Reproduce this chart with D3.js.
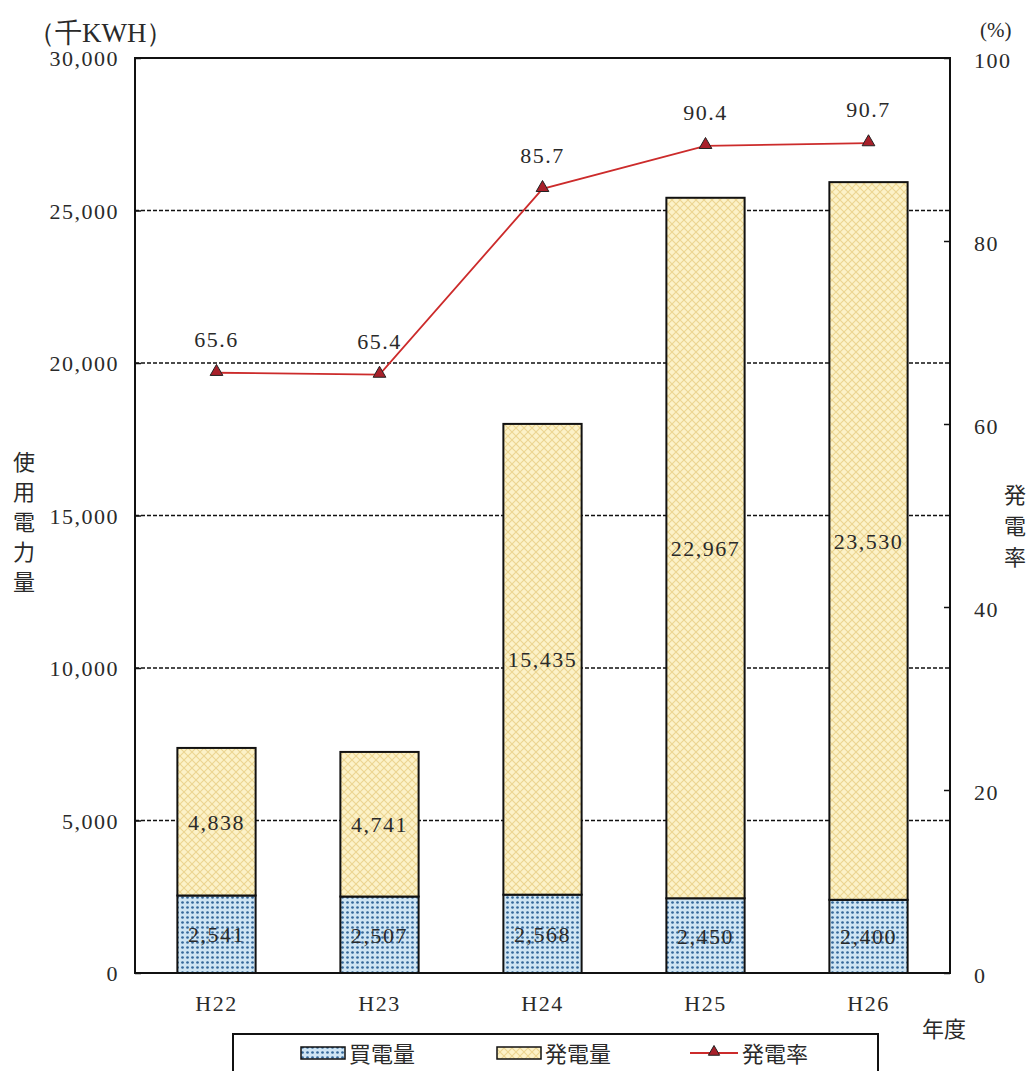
<!DOCTYPE html>
<html><head><meta charset="utf-8">
<script src="https://cdn.jsdelivr.net/npm/d3@7"></script>
<style>body{margin:0;background:#fff}svg{display:block}</style>
</head><body>
<script>
const categories = ["H22","H23","H24","H25","H26"];
const purchased = [2541,2507,2568,2450,2400];
const generated = [4838,4741,15435,22967,23530];
const genRate = [65.6,65.4,85.7,90.4,90.7];
const leftTicks = [0,5000,10000,15000,20000,25000,30000];
const rightTicks = [0,20,40,60,80,100];

const W=1027,H=1071;
const m={l:135,r:950,t:58,b:973};
const serif='"Liberation Serif","DejaVu Serif",serif';
const cjk='"Noto Sans CJK JP",sans-serif';
const ink="#2a2a2a";
const svg=d3.select("body").append("svg").attr("width",W).attr("height",H);
const defs=svg.append("defs");
const pb=defs.append("pattern").attr("id","pBlue").attr("patternUnits","userSpaceOnUse").attr("width",5).attr("height",5);
pb.append("rect").attr("width",5).attr("height",5).attr("fill","#cfe5f4");
pb.append("circle").attr("cx",2.5).attr("cy",2.5).attr("r",1.35).attr("fill","#35689a");
const py=defs.append("pattern").attr("id","pYel").attr("patternUnits","userSpaceOnUse").attr("width",8).attr("height",8);
py.append("rect").attr("width",8).attr("height",8).attr("fill","#fcf2c8");
py.append("path").attr("d","M0,0L8,8M8,0L0,8").attr("stroke","#ecd590").attr("stroke-width",1.1);

const x=d3.scaleBand().domain(categories).range([m.l,m.r]).paddingInner(0.52).paddingOuter(0.26);
const y=d3.scaleLinear().domain([0,30000]).range([m.b,m.t]);
const y2=d3.scaleLinear().domain([0,100]).range([m.b,m.t]);

const numText=sel=>sel.attr("font-family",serif).attr("font-size",22).attr("letter-spacing",1.5).attr("fill",ink);

// gridlines
svg.append("g").selectAll("line").data(leftTicks.filter(d=>d>0&&d<30000)).join("line")
 .attr("x1",m.l).attr("x2",m.r).attr("y1",d=>y(d)).attr("y2",d=>y(d))
 .attr("stroke","#111").attr("stroke-width",1.6).attr("stroke-dasharray","4,2");

// bars
const g=svg.append("g");
categories.forEach((c,i)=>{
  const x0=x(c),bw=x.bandwidth();
  g.append("rect").attr("x",x0).attr("width",bw).attr("y",y(purchased[i])).attr("height",y(0)-y(purchased[i]))
   .attr("fill","url(#pBlue)").attr("stroke","#111").attr("stroke-width",2);
  const top=purchased[i]+generated[i];
  g.append("rect").attr("x",x0).attr("width",bw).attr("y",y(top)).attr("height",y(purchased[i])-y(top))
   .attr("fill","url(#pYel)").attr("stroke","#111").attr("stroke-width",2);
  g.append("text").attr("x",x0+bw/2).attr("y",(y(0)+y(purchased[i]))/2+8).attr("text-anchor","middle")
   .call(numText).text(d3.format(",")(purchased[i]));
  g.append("text").attr("x",x0+bw/2).attr("y",(y(purchased[i])+y(top))/2+8).attr("text-anchor","middle")
   .call(numText).text(d3.format(",")(generated[i]));
});

// line
const cx=c=>x(c)+x.bandwidth()/2;
svg.append("path").datum(genRate).attr("fill","none").attr("stroke","#cc2b2b").attr("stroke-width",1.8)
 .attr("d",d3.line().x((d,i)=>cx(categories[i])).y(d=>y2(d)));
svg.append("g").selectAll("path").data(genRate).join("path")
 .attr("d",d3.symbol(d3.symbolTriangle,70)).attr("transform",(d,i)=>`translate(${cx(categories[i])},${y2(d)-1})`)
 .attr("fill","#a8202a").attr("stroke","#222").attr("stroke-width",1);
svg.append("g").selectAll("text").data(genRate).join("text")
 .attr("x",(d,i)=>cx(categories[i])).attr("y",(d)=>y2(d)-26).attr("text-anchor","middle")
 .call(numText).text(d=>d.toFixed(1));

// frame
svg.append("rect").attr("x",m.l).attr("y",m.t).attr("width",m.r-m.l).attr("height",m.b-m.t)
 .attr("fill","none").attr("stroke","#111").attr("stroke-width",2);

// axes
const ax=svg.append("g").attr("transform",`translate(${m.l},0)`)
 .call(d3.axisRight(y).tickValues(leftTicks).tickSize(6).tickFormat(d3.format(",")));
ax.select(".domain").remove();
ax.selectAll("line").attr("stroke","#111").attr("stroke-width",1.5);
ax.selectAll("text").attr("x",-16).attr("text-anchor","end").call(numText).attr("dy","0.35em");

const ar=svg.append("g").attr("transform",`translate(${m.r},0)`)
 .call(d3.axisLeft(y2).tickValues(rightTicks).tickSize(6));
ar.select(".domain").remove();
ar.selectAll("line").attr("stroke","#111").attr("stroke-width",1.5);
ar.selectAll("text").attr("x",24).attr("text-anchor","start").call(numText).attr("dy","0.45em");

const axb=svg.append("g").attr("transform",`translate(0,${m.b})`).call(d3.axisBottom(x).tickSize(0));
axb.select(".domain").remove();
axb.selectAll("text").call(numText).attr("dy","1.6em");

// titles
svg.append("text").attr("x",28).attr("y",42).attr("font-family",serif).attr("font-size",27).attr("fill",ink).text("（千KWH）");
svg.append("text").attr("x",980).attr("y",37).attr("font-family",serif).attr("font-size",21).attr("fill",ink).text("(%)");
svg.append("g").selectAll("text").data([..."使用電力量"]).join("text")
 .attr("x",24).attr("y",(d,i)=>470+i*30).attr("text-anchor","middle").attr("font-family",cjk).attr("font-size",22).attr("fill",ink).text(d=>d);
svg.append("g").selectAll("text").data([..."発電率"]).join("text")
 .attr("x",1015).attr("y",(d,i)=>503+i*31).attr("text-anchor","middle").attr("font-family",cjk).attr("font-size",22).attr("fill",ink).text(d=>d);
svg.append("text").attr("x",944).attr("y",1037).attr("text-anchor","middle").attr("font-family",cjk).attr("font-size",22).attr("fill",ink).text("年度");

// legend
const lg=svg.append("g");
lg.append("rect").attr("x",233).attr("y",1034).attr("width",645).attr("height",45).attr("fill","#fff").attr("stroke","#111").attr("stroke-width",2);
lg.append("rect").attr("x",301).attr("y",1047).attr("width",44).attr("height",12).attr("fill","url(#pBlue)").attr("stroke","#111").attr("stroke-width",1.5);
lg.append("text").attr("x",349).attr("y",1062).attr("font-family",cjk).attr("font-size",22).attr("fill",ink).text("買電量");
lg.append("rect").attr("x",497).attr("y",1047).attr("width",44).attr("height",12).attr("fill","url(#pYel)").attr("stroke","#111").attr("stroke-width",1.5);
lg.append("text").attr("x",545).attr("y",1062).attr("font-family",cjk).attr("font-size",22).attr("fill",ink).text("発電量");
lg.append("line").attr("x1",690).attr("x2",738).attr("y1",1053).attr("y2",1053).attr("stroke","#cc2b2b").attr("stroke-width",1.8);
lg.append("path").attr("d",d3.symbol(d3.symbolTriangle,55)).attr("transform","translate(714,1052)").attr("fill","#a8202a").attr("stroke","#222");
lg.append("text").attr("x",742).attr("y",1062).attr("font-family",cjk).attr("font-size",22).attr("fill",ink).text("発電率");
</script>
</body></html>
